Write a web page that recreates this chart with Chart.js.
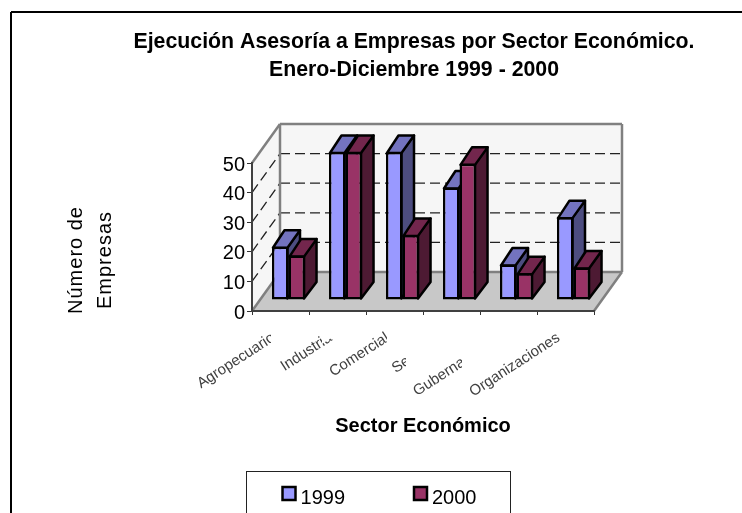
<!DOCTYPE html>
<html>
<head>
<meta charset="utf-8">
<script src="https://cdn.jsdelivr.net/npm/chart.js@4"></script>
<style>
  html, body { margin: 0; padding: 0; background: #fff; overflow: hidden; }
  #wrap { width: 742px; height: 513px; }
</style>
</head>
<body>
<div id="wrap"><canvas id="myChart" width="742" height="513"></canvas></div>
<script>
const categories = ['Agropecuario', 'Industria', 'Comercial', 'Servicios', 'Gubernamental', 'Organizaciones'];
const values1999 = [18, 50, 50, 38, 12, 28];
const values2000 = [15, 50, 22, 46, 9, 11];
const yTicks = [0, 10, 20, 30, 40, 50];

const FONT = '"Liberation Sans", Arial, sans-serif';
// offset of the floor's back edge, of the bars' front face and of a bar's own depth
const wall = { dx: 28, dy: -39 };
const front = { dx: 8, dy: -11 };
const depth = { dx: 11.5, dy: -16.5 };
const frontColors = ['#9999ff', '#993366'];
const topColors = ['#7373bf', '#73264d'];
const sideColors = ['#4d4d80', '#4d1a33'];
const legendShift = { x: 82, y: -20 };

function poly(ctx, pts, fill, stroke, lw) {
  ctx.beginPath();
  pts.forEach((p, i) => i ? ctx.lineTo(p[0], p[1]) : ctx.moveTo(p[0], p[1]));
  ctx.closePath();
  if (fill) { ctx.fillStyle = fill; ctx.fill(); }
  if (stroke) { ctx.strokeStyle = stroke; ctx.lineWidth = lw; ctx.stroke(); }
}

function line(ctx, x1, y1, x2, y2) {
  ctx.beginPath();
  ctx.moveTo(x1, y1);
  ctx.lineTo(x2, y2);
  ctx.stroke();
}

const box3d = {
  id: 'box3d',
  afterLayout(chart) {
    // title and legend are not centred on the page in the original
    chart.titleBlock.left = 0;
    chart.titleBlock.right = 828;
    chart.legend.left += legendShift.x;
    chart.legend.right += legendShift.x;
    chart.legend.top += legendShift.y;
  },
  beforeDraw(chart) {
    const { ctx, chartArea: a, scales: { y } } = chart;
    const L = a.left, R = a.right, B = y.getPixelForValue(0), T = y.getPixelForValue(50);
    ctx.save();
    // page frame, open on the right and at the bottom
    ctx.strokeStyle = '#000';
    ctx.lineWidth = 2;
    line(ctx, 11, 513, 11, 12);
    line(ctx, 11, 12, 742, 12);
    // legend frame runs off the page
    ctx.lineWidth = 1;
    ctx.strokeStyle = '#222';
    ctx.strokeRect(246.5, 471.5, 264, 60);

    poly(ctx, [[L, B], [L, T], [L + wall.dx, T + wall.dy], [L + wall.dx, B + wall.dy]], '#f6f6f6');
    poly(ctx, [[L + wall.dx, B + wall.dy], [L + wall.dx, T + wall.dy], [R + wall.dx, T + wall.dy], [R + wall.dx, B + wall.dy]], '#f6f6f6');
    poly(ctx, [[L, B], [R, B], [R + wall.dx, B + wall.dy], [L + wall.dx, B + wall.dy]], '#c8c8c8');

    ctx.strokeStyle = '#222';
    ctx.lineWidth = 1.3;
    ctx.setLineDash([10, 5]);
    yTicks.slice(1, -1).forEach(v => {
      const p = y.getPixelForValue(v);
      line(ctx, L + wall.dx, p + wall.dy, R + wall.dx, p + wall.dy);
      line(ctx, L, p, L + wall.dx, p + wall.dy);
    });
    ctx.setLineDash([]);

    ctx.strokeStyle = '#808080';
    ctx.lineWidth = 2.5;
    line(ctx, L, T, L + wall.dx, T + wall.dy);
    line(ctx, L + wall.dx, T + wall.dy, R + wall.dx, T + wall.dy);
    line(ctx, L + wall.dx, T + wall.dy, L + wall.dx, B + wall.dy);
    line(ctx, R + wall.dx, T + wall.dy, R + wall.dx, B + wall.dy);
    line(ctx, L + wall.dx, B + wall.dy, R + wall.dx, B + wall.dy);
    line(ctx, L, B, L + wall.dx, B + wall.dy);
    line(ctx, R, B, R + wall.dx, B + wall.dy);
    ctx.restore();
  },
  beforeDatasetsDraw(chart) {
    const { ctx } = chart;
    ctx.save();
    ctx.translate(front.dx, front.dy);
    ctx.lineJoin = 'round';
    categories.forEach((c, i) => {
      [0, 1].forEach(d => {
        const el = chart.getDatasetMeta(d).data[i];
        const l = el.x - el.width / 2, r = el.x + el.width / 2;
        poly(ctx, [[r - 1, el.base - 1], [r + depth.dx, el.base - 1 + depth.dy], [r + depth.dx, el.y + depth.dy], [r - 1, el.y]], sideColors[d], '#000', 2.5);
        poly(ctx, [[l + 1, el.y + 1], [l + 1 + depth.dx, el.y + depth.dy], [r + depth.dx, el.y + depth.dy], [r - 1, el.y + 1]], topColors[d], '#000', 2.5);
      });
    });
    // the bars themselves are drawn by chart.js while this translate is active
  },
  afterDatasetsDraw(chart) {
    chart.ctx.restore();
  },
  afterDraw(chart) {
    const { ctx, legend } = chart;
    ctx.save();
    // cut-off category labels: [x of cut, y at cut, length of the hidden part]
    ctx.save();
    ctx.beginPath();
    ctx.rect(0, 317, 742, 120);
    ctx.clip();
    [[271, 335, 24], [322, 333, 24], [387, 333, 24], [406, 358, 52], [462, 358, 58]].forEach(m => {
      const dy = m[2] * 0.65;
      poly(ctx, [[m[0], m[1] + 11], [m[0], m[1] - 14], [m[0] + m[2], m[1] - 14 - dy], [m[0] + m[2], m[1] + 11 - dy]], '#fff');
    });
    ctx.restore();
    // legend swatches, wider than the box the legend leaves for them
    legend.legendHitBoxes.forEach((hb, i) => {
      poly(ctx, [[hb.left + 1, 487], [hb.left + 14, 487], [hb.left + 14, 500], [hb.left + 1, 500]], frontColors[i], '#000', 2.5);
    });
    // value axis title
    ctx.translate(90, 260);
    ctx.rotate(-Math.PI / 2);
    ctx.fillStyle = '#000';
    ctx.font = '20px ' + FONT;
    ctx.letterSpacing = '1px';
    ctx.textAlign = 'center';
    ctx.textBaseline = 'middle';
    ctx.fillText('Número de', 0, -14);
    ctx.fillText('Empresas', 0, 15);
    ctx.restore();
  }
};

new Chart(document.getElementById('myChart'), {
  type: 'bar',
  data: {
    labels: categories,
    datasets: [
      { label: '1999', data: values1999, backgroundColor: frontColors[0], borderColor: '#000', borderWidth: 2.5, borderSkipped: false, clip: false },
      { label: '2000', data: values2000, backgroundColor: frontColors[1], borderColor: '#000', borderWidth: 2.5, borderSkipped: false, clip: false }
    ]
  },
  options: {
    responsive: false,
    animation: false,
    layout: { padding: { right: 148, bottom: -25 } },
    plugins: {
      tooltip: { enabled: false },
      title: {
        display: true,
        text: ['Ejecución Asesoría a Empresas por Sector Económico.', 'Enero-Diciembre 1999 - 2000'],
        color: '#000',
        font: { family: FONT, size: 21.3, weight: 'bold', lineHeight: 1.315 },
        padding: { top: 28, bottom: 79 }
      },
      legend: {
        position: 'bottom',
        labels: {
          color: '#000',
          font: { family: FONT, size: 20 },
          boxWidth: 9,
          boxHeight: 15,
          padding: 68,
          generateLabels(chart) {
            return chart.data.datasets.map((ds, i) => ({
              text: ds.label, fillStyle: 'transparent', strokeStyle: 'transparent', lineWidth: 0, datasetIndex: i
            }));
          }
        }
      }
    },
    datasets: { bar: { barPercentage: 1, categoryPercentage: 0.58 } },
    scales: {
      x: {
        afterFit(s) { s.height = 129; },
        grid: { drawOnChartArea: false, tickLength: 4, color: '#333', offset: true },
        border: { color: '#404040', width: 2 },
        ticks: {
          autoSkip: false, minRotation: 33, maxRotation: 33, padding: 14, labelOffset: -7,
          color: '#404040', font: { family: FONT, size: 15 }
        },
        title: { display: true, text: 'Sector Económico', color: '#000', font: { family: FONT, size: 20, weight: 'bold' }, padding: { top: 0, bottom: 2 } }
      },
      y: {
        min: 0, max: 50,
        afterFit(s) { s.width = 252; },
        afterBuildTicks(s) { s.ticks = yTicks.map(v => ({ value: v })); },
        grid: { drawOnChartArea: false, tickLength: 5, color: '#333' },
        border: { color: '#404040', width: 2 },
        ticks: { color: '#000', padding: 2, labelOffset: 2, font: { family: FONT, size: 20 } }
      }
    }
  },
  plugins: [box3d]
});
</script>
</body>
</html>
